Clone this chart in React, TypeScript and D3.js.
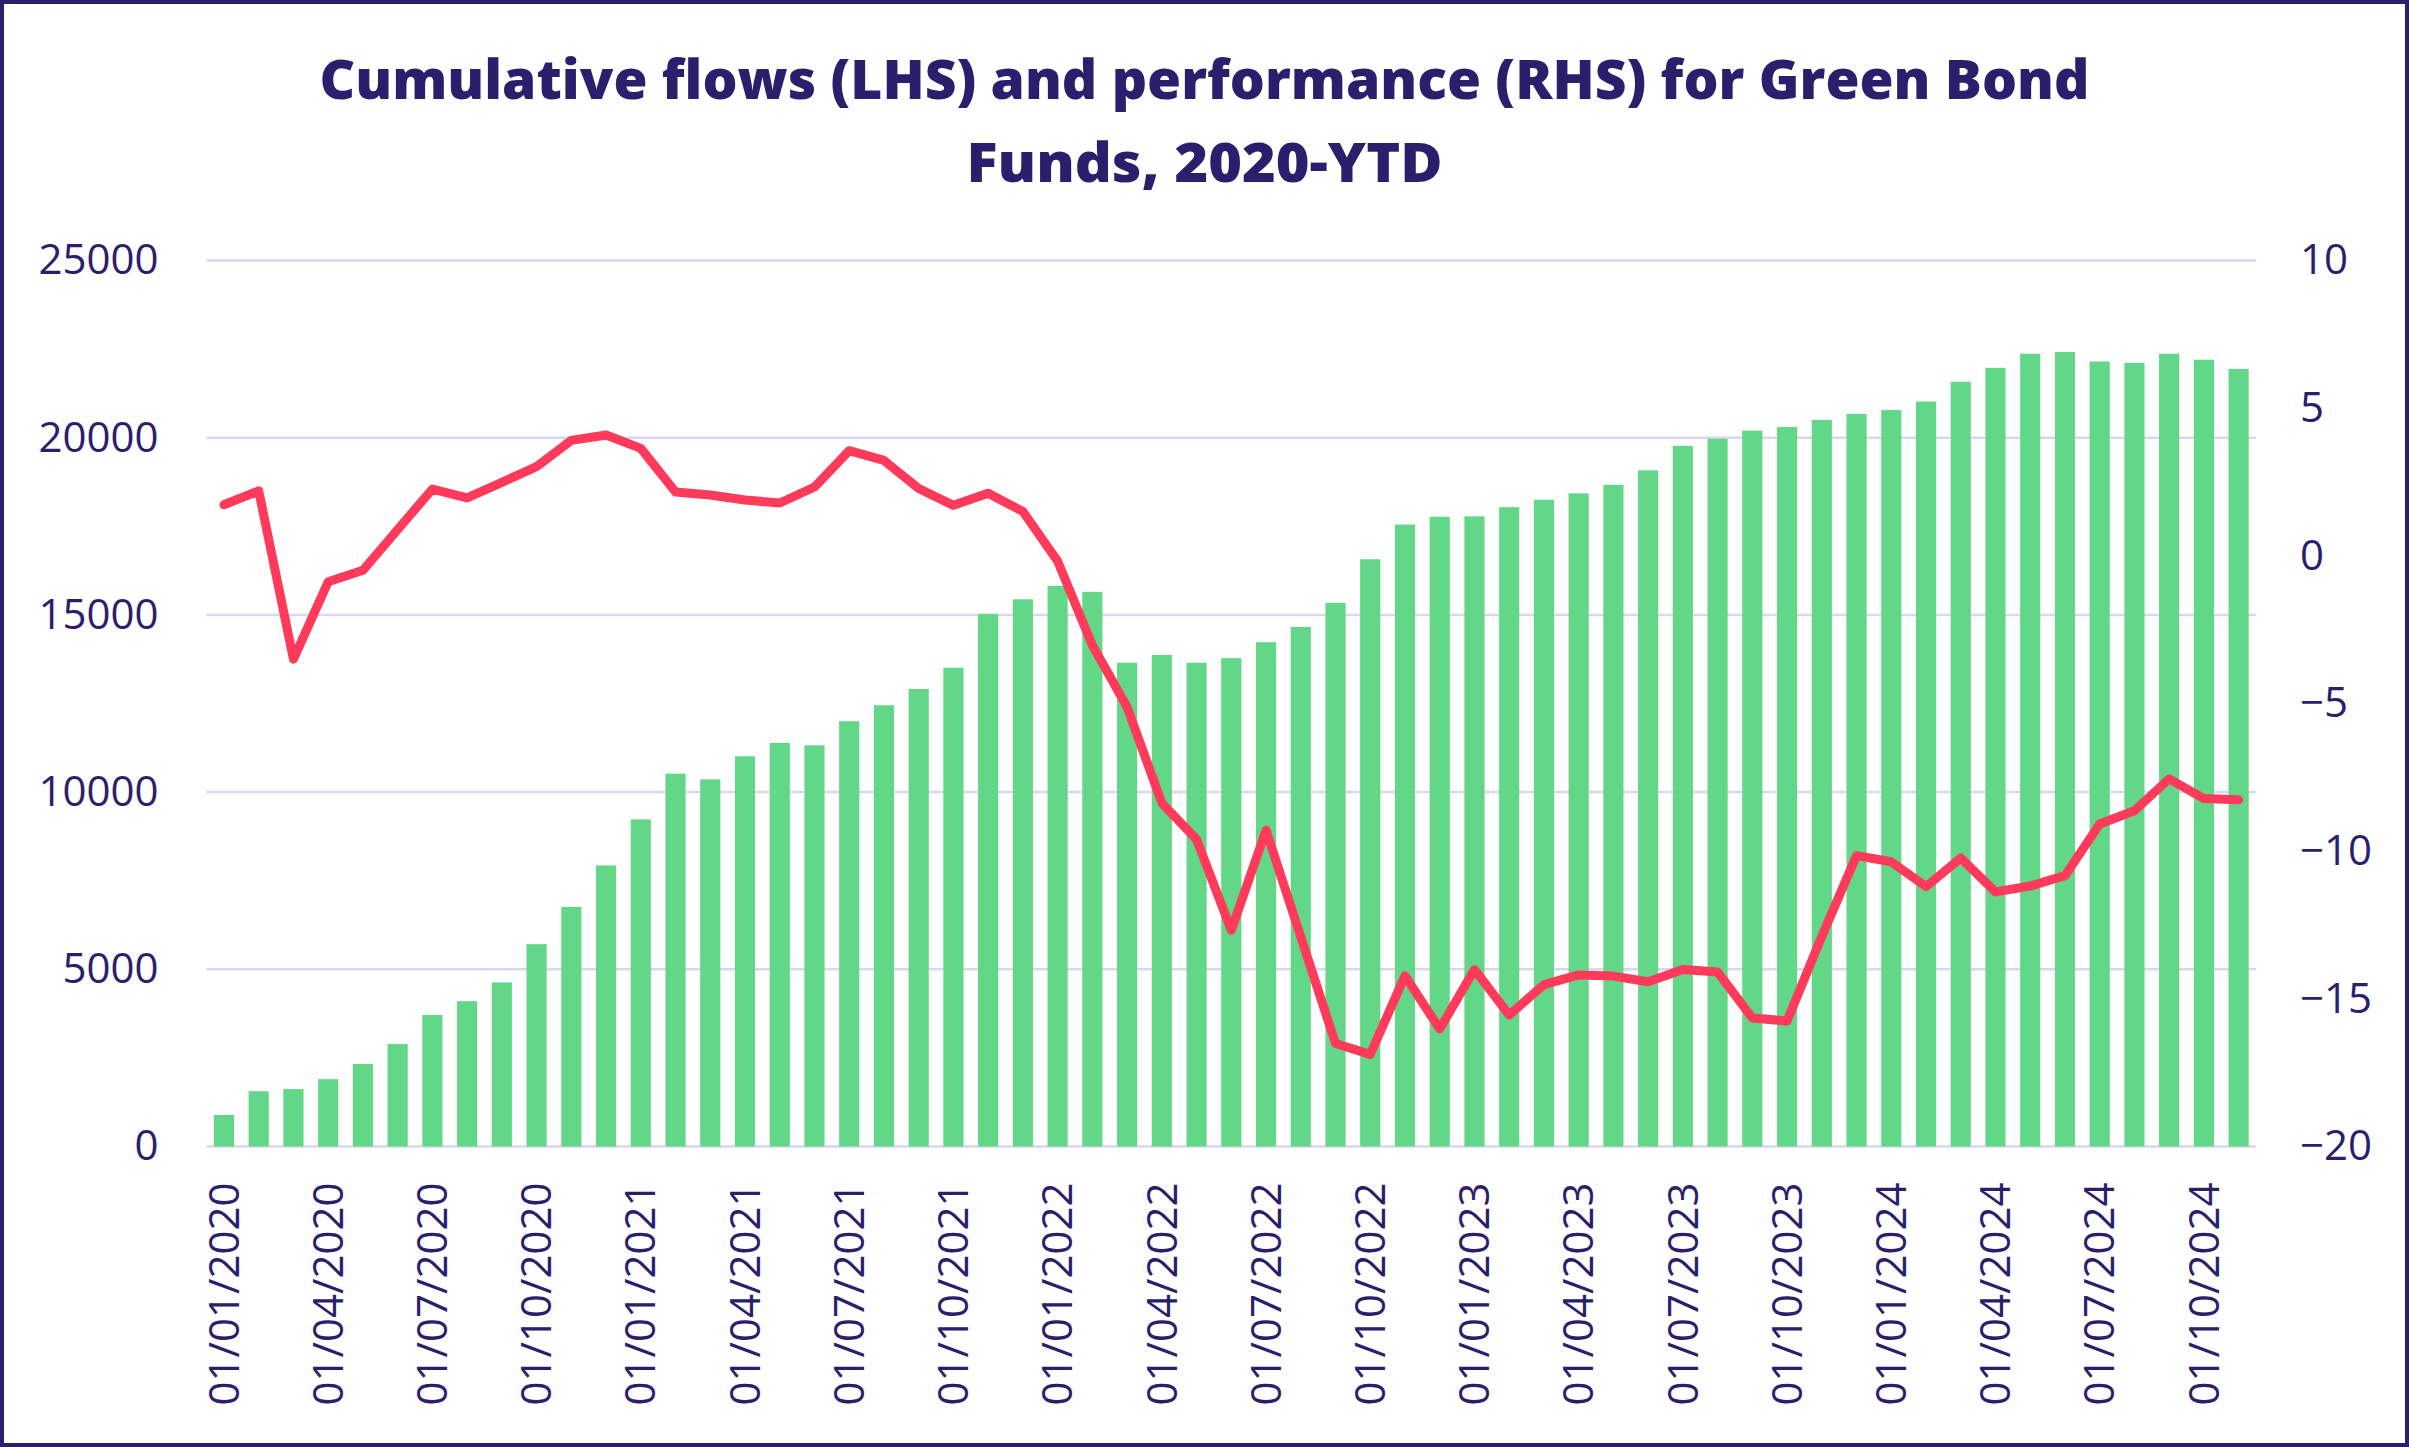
import React, { useRef, useEffect } from "react";
import * as d3 from "d3";

// monthly observations, Jan 2020 - Nov 2024
const months = [
  "01/01/2020", "01/02/2020", "01/03/2020", "01/04/2020", "01/05/2020", "01/06/2020",
  "01/07/2020", "01/08/2020", "01/09/2020", "01/10/2020", "01/11/2020", "01/12/2020",
  "01/01/2021", "01/02/2021", "01/03/2021", "01/04/2021", "01/05/2021", "01/06/2021",
  "01/07/2021", "01/08/2021", "01/09/2021", "01/10/2021", "01/11/2021", "01/12/2021",
  "01/01/2022", "01/02/2022", "01/03/2022", "01/04/2022", "01/05/2022", "01/06/2022",
  "01/07/2022", "01/08/2022", "01/09/2022", "01/10/2022", "01/11/2022", "01/12/2022",
  "01/01/2023", "01/02/2023", "01/03/2023", "01/04/2023", "01/05/2023", "01/06/2023",
  "01/07/2023", "01/08/2023", "01/09/2023", "01/10/2023", "01/11/2023", "01/12/2023",
  "01/01/2024", "01/02/2024", "01/03/2024", "01/04/2024", "01/05/2024", "01/06/2024",
  "01/07/2024", "01/08/2024", "01/09/2024", "01/10/2024", "01/11/2024",
];

// cumulative flows, LHS
const flows = [
  890, 1560, 1620, 1900, 2330, 2890, 3710, 4100, 4630, 5710, 6760, 7930,
  9230, 10520, 10360, 11010, 11390, 11320, 12000, 12450, 12910, 13510, 15030, 15440,
  15820, 15650, 13650, 13870, 13650, 13780, 14230, 14660, 15340, 16570, 17550, 17770,
  17780, 18040, 18250, 18430, 18670, 19080, 19770, 19970, 20200, 20300, 20500, 20670,
  20780, 21020, 21580, 21970, 22370, 22420, 22150, 22110, 22370, 22200, 21940,
];

// performance, RHS
const performance = [
  1.73, 2.2, -3.5, -0.88, -0.49, 0.89, 2.26, 1.96, 2.49, 3.02, 3.91, 4.09,
  3.64, 2.16, 2.06, 1.89, 1.79, 2.33, 3.56, 3.23, 2.28, 1.71, 2.12, 1.5,
  -0.18, -3.03, -5.12, -8.37, -9.6, -12.68, -9.29, -12.9, -16.51, -16.88, -14.22, -16.02,
  -14.01, -15.55, -14.52, -14.19, -14.23, -14.42, -14.01, -14.09, -15.65, -15.75, -12.88, -10.15,
  -10.36, -11.2, -10.23, -11.38, -11.18, -10.83, -9.08, -8.63, -7.55, -8.22, -8.26,
];

const leftTicks = [0, 5000, 10000, 15000, 20000, 25000];
const rightTicks = [-20, -15, -10, -5, 0, 5, 10];
const titleLines = [
  "Cumulative flows (LHS) and performance (RHS) for Green Bond",
  "Funds, 2020-YTD",
];
const titleWidths = [1770, 476];

const width = 2409;
const height = 1447;
const margin = { top: 260.5, right: 153, bottom: 300.5, left: 206.6 };

const navy = "#2B1E6C";
const green = "#62D788";
const red = "#FF3A5A";
const grid = "#D9D6F0";
const font = "'Open Sans', 'DejaVu Sans', sans-serif";

const App: React.FC = () => {
  const svgRef = useRef<SVGSVGElement>(null);

  useEffect(() => {
    if (!svgRef.current) return;
    const svg = d3.select(svgRef.current);
    svg.selectAll("*").remove();

    const x = d3
      .scaleBand()
      .domain(months)
      .range([margin.left, width - margin.right])
      .paddingInner(0.42)
      .paddingOuter(0.21);

    const yL = d3
      .scaleLinear()
      .domain([0, 25000])
      .range([height - margin.bottom, margin.top]);

    const yR = d3
      .scaleLinear()
      .domain([-20, 10])
      .range([height - margin.bottom, margin.top]);

    svg
      .append("rect")
      .attr("x", 0)
      .attr("y", 0)
      .attr("width", width)
      .attr("height", height)
      .attr("fill", "#fff");

    // gridlines
    svg
      .append("g")
      .selectAll("line")
      .data(leftTicks)
      .join("line")
      .attr("x1", margin.left)
      .attr("x2", width - margin.right)
      .attr("y1", (d) => yL(d))
      .attr("y2", (d) => yL(d))
      .attr("stroke", grid)
      .attr("stroke-width", 2.5);

    // bars
    svg
      .append("g")
      .selectAll("rect")
      .data(flows)
      .join("rect")
      .attr("x", (d, i) => x(months[i])!)
      .attr("width", x.bandwidth())
      .attr("y", (d) => yL(d))
      .attr("height", (d) => yL(0) - yL(d))
      .attr("fill", green);

    // performance line
    const line = d3
      .line<number>()
      .x((d, i) => x(months[i])! + x.bandwidth() / 2)
      .y((d) => yR(d));

    svg
      .append("path")
      .datum(performance)
      .attr("d", line)
      .attr("fill", "none")
      .attr("stroke", red)
      .attr("stroke-width", 9)
      .attr("stroke-linejoin", "round")
      .attr("stroke-linecap", "round");

    // left axis
    const leftAxis = d3
      .axisLeft(yL)
      .tickValues(leftTicks)
      .tickFormat(d3.format("d"))
      .tickSize(0)
      .tickPadding(48);
    svg
      .append("g")
      .attr("transform", `translate(${margin.left},0)`)
      .call(leftAxis)
      .call((g) => g.select(".domain").remove())
      .selectAll("text")
      .attr("fill", navy)
      .attr("font-family", font)
      .attr("font-size", 42);

    // right axis
    const rightAxis = d3
      .axisRight(yR)
      .tickValues(rightTicks)
      .tickSize(0)
      .tickPadding(44);
    svg
      .append("g")
      .attr("transform", `translate(${width - margin.right},0)`)
      .call(rightAxis)
      .call((g) => g.select(".domain").remove())
      .selectAll("text")
      .attr("fill", navy)
      .attr("font-family", font)
      .attr("font-size", 42);

    // bottom axis, every third month
    const bottomAxis = d3
      .axisBottom(x)
      .tickValues(months.filter((d, i) => i % 3 === 0))
      .tickSize(0);
    svg
      .append("g")
      .attr("transform", `translate(0,${height - margin.bottom})`)
      .call(bottomAxis)
      .call((g) => g.select(".domain").remove())
      .selectAll("text")
      .attr("fill", navy)
      .attr("font-family", font)
      .attr("font-size", 42)
      .attr("text-anchor", "end")
      .attr("dy", "0.35em")
      .attr("transform", "translate(0,36) rotate(-90)")
      .attr("x", 0)
      .attr("y", 0);

    // title
    svg
      .append("g")
      .selectAll("text")
      .data(titleLines)
      .join("text")
      .attr("x", width / 2)
      .attr("y", (d, i) => 99 + i * 83)
      .attr("text-anchor", "middle")
      .attr("fill", navy)
      .attr("font-family", font)
      .attr("font-weight", 800)
      .attr("font-size", 55)
      .attr("textLength", (d, i) => titleWidths[i])
      .attr("lengthAdjust", "spacingAndGlyphs")
      .text((d) => d);

    // frame
    svg
      .append("rect")
      .attr("x", 2)
      .attr("y", 2)
      .attr("width", width - 4)
      .attr("height", height - 4)
      .attr("fill", "none")
      .attr("stroke", navy)
      .attr("stroke-width", 4);
  }, []);

  return (
    <div style={{ position: "absolute", left: 0, top: 0 }}>
      <svg ref={svgRef} width={width} height={height} style={{ display: "block" }}></svg>
    </div>
  );
};

export default App;
